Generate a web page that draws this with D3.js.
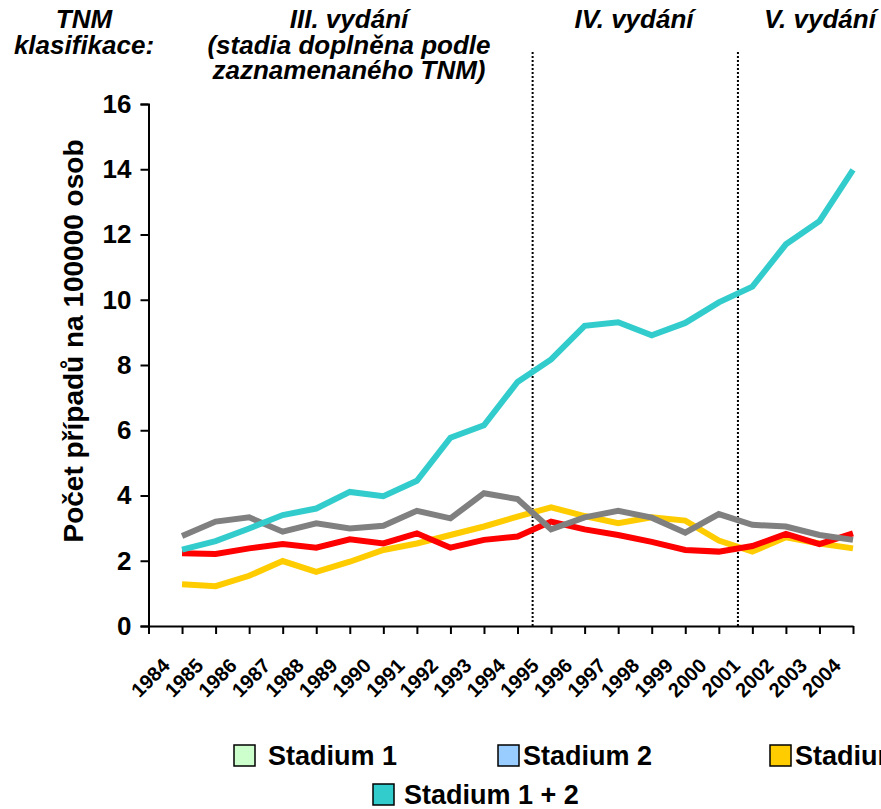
<!DOCTYPE html>
<html>
<head>
<meta charset="utf-8">
<script src="https://cdn.jsdelivr.net/npm/d3@7"></script>
<style>
  html, body { margin: 0; padding: 0; background: #fff; }
  svg { display: block; }
  text { font-family: "Liberation Sans", Arial, sans-serif; font-weight: bold; fill: #000; }
</style>
</head>
<body>
<div id="chart"></div>
<script>
// Incidence per 100000, 1984-2004
const years = d3.range(1984, 2005);
const stadium12 = [2.34, 2.60, 2.99, 3.40, 3.60, 4.11, 3.98, 4.45, 5.77, 6.15, 7.48, 8.17, 9.20, 9.31, 8.91, 9.29, 9.92, 10.40, 11.70, 12.41, 13.98];
const stadium3 = [1.28, 1.22, 1.54, 1.99, 1.66, 1.97, 2.33, 2.53, 2.79, 3.05, 3.35, 3.64, 3.37, 3.15, 3.33, 3.23, 2.62, 2.28, 2.72, 2.53, 2.38];
const stadium4 = [2.23, 2.21, 2.38, 2.51, 2.40, 2.66, 2.53, 2.84, 2.40, 2.64, 2.74, 3.20, 2.96, 2.79, 2.58, 2.33, 2.28, 2.45, 2.82, 2.51, 2.84];
const neznamo = [2.76, 3.20, 3.33, 2.89, 3.15, 2.99, 3.07, 3.53, 3.30, 4.07, 3.89, 2.96, 3.33, 3.53, 3.32, 2.86, 3.43, 3.10, 3.05, 2.79, 2.64];
const yTicks = [0, 2, 4, 6, 8, 10, 12, 14, 16];
// edition boundaries (TNM III -> IV -> V)
const editionBreaks = [1994.45, 2000.57];

// drawing order: later ones on top
const series = [
    { name: "Stadium 3", values: stadium3, color: "#FFCC00" },
    { name: "Stadium 4", values: stadium4, color: "#FF0000" },
    { name: "Neznámé", values: neznamo, color: "#808080" },
    { name: "Stadium 1 + 2", values: stadium12, color: "#33CCCC" }
];

const legendItems = [
    { name: "Stadium 1", color: "#CCFFCC" },
    { name: "Stadium 2", color: "#99CCFF" },
    { name: "Stadium 3", color: "#FFCC00" },
    { name: "Stadium 1 + 2", color: "#33CCCC" }
];

const headers = [
    { x: 84, lines: ["TNM", "klasifikace:"] },
    { x: 349, lines: ["III. vydání", "(stadia doplněna podle", "zaznamenaného TNM)"] },
    { x: 634, lines: ["IV. vydání"] },
    { x: 820, lines: ["V. vydání"] }
];

const W = 881, H = 809;
const svg = d3.select("#chart").append("svg")
    .attr("width", W)
    .attr("height", H);

const x = d3.scaleLinear().domain([1983, 2004]).range([148.5, 853]);
const y = d3.scaleLinear().domain([0, 16]).range([626, 104]);

// headers
headers.forEach(h => {
    h.lines.forEach((t, i) => {
        svg.append("text")
            .attr("x", h.x)
            .attr("y", 28 + i * 25.5)
            .attr("text-anchor", "middle")
            .attr("font-size", "26px")
            .attr("font-style", "italic")
            .text(t);
    });
});

// dotted edition lines
svg.selectAll(".edition")
    .data(editionBreaks)
    .enter()
    .append("line")
    .attr("x1", d => x(d))
    .attr("x2", d => x(d))
    .attr("y1", 52)
    .attr("y2", y(0))
    .attr("stroke", "#000")
    .attr("stroke-width", 2)
    .attr("stroke-dasharray", "2,2");

// y axis
const yAxis = svg.append("g")
    .attr("transform", `translate(${x(1983)},0)`)
    .call(d3.axisLeft(y).tickValues(yTicks).tickSize(8).tickPadding(9).tickFormat(d3.format("d")));
yAxis.select(".domain").attr("stroke", "#000").attr("stroke-width", 2);
yAxis.selectAll("line").attr("stroke", "#000").attr("stroke-width", 2);
yAxis.selectAll("text")
    .attr("font-size", "26px")
    .attr("font-family", "'Liberation Sans', Arial, sans-serif")
    .attr("font-weight", "bold")
    .attr("fill", "#000");

// x axis
const xAxis = svg.append("g")
    .attr("transform", `translate(0,${y(0)})`)
    .call(d3.axisBottom(x).tickValues(d3.range(1983, 2005)).tickSize(8).tickSizeOuter(0).tickFormat(""));
xAxis.select(".domain").attr("stroke", "#000").attr("stroke-width", 2);
xAxis.selectAll("line").attr("stroke", "#000").attr("stroke-width", 2);

// rotated year labels
svg.selectAll(".year")
    .data(years)
    .enter()
    .append("text")
    .attr("class", "year")
    .attr("text-anchor", "end")
    .attr("font-size", "20px")
    .attr("transform", d => `translate(${x(d) - 11},${y(0) + 41}) rotate(-45)`)
    .text(d => d);

// axis title
svg.append("text")
    .attr("transform", `translate(83,341) rotate(-90)`)
    .attr("text-anchor", "middle")
    .attr("font-size", "28px")
    .text("Počet případů na 100000 osob");

// series lines
const line = d3.line()
    .x((d, i) => x(years[i]))
    .y(d => y(d));

svg.selectAll(".series")
    .data(series)
    .enter()
    .append("path")
    .attr("class", "series")
    .attr("d", d => line(d.values))
    .attr("fill", "none")
    .attr("stroke", d => d.color)
    .attr("stroke-width", 6)
    .attr("stroke-linejoin", "miter");

// legend
const legendPos = [
    { x: 234, y: 745, tx: 268 },
    { x: 498, y: 745, tx: 523 },
    { x: 770, y: 745, tx: 795 },
    { x: 373, y: 784, tx: 404 }
];
const legend = svg.selectAll(".legend")
    .data(legendItems)
    .enter()
    .append("g")
    .attr("class", "legend");
legend.append("rect")
    .attr("x", (d, i) => legendPos[i].x)
    .attr("y", (d, i) => legendPos[i].y)
    .attr("width", 21)
    .attr("height", 21)
    .attr("fill", d => d.color)
    .attr("stroke", "#000")
    .attr("stroke-width", 1.5);
legend.append("text")
    .attr("x", (d, i) => legendPos[i].tx)
    .attr("y", (d, i) => legendPos[i].y + 20)
    .attr("font-size", "27px")
    .text(d => d.name);
</script>
</body>
</html>
